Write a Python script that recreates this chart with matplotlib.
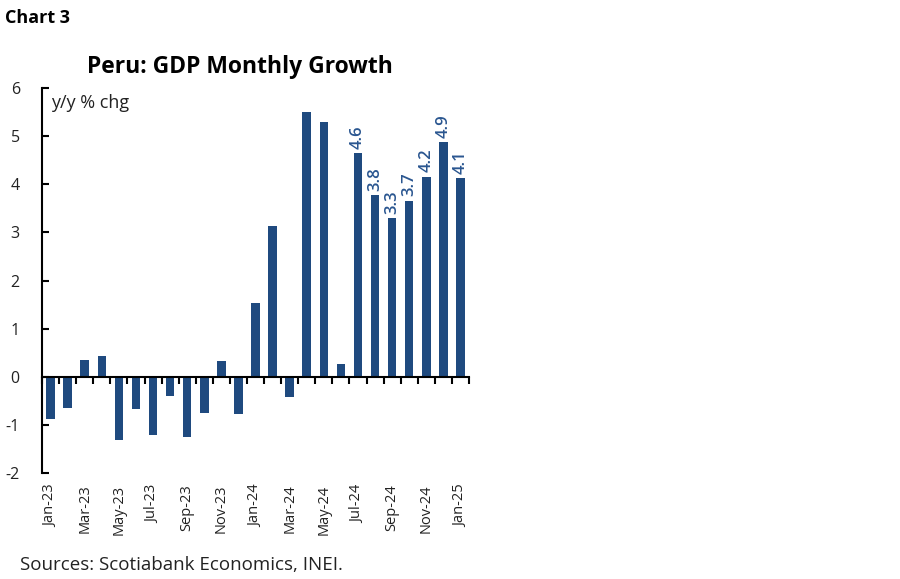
import matplotlib
matplotlib.use("Agg")
import matplotlib.pyplot as plt
import matplotlib.transforms as mtransforms
import numpy as np

months = ["Jan-23", "Feb-23", "Mar-23", "Apr-23", "May-23", "Jun-23", "Jul-23", "Aug-23",
          "Sep-23", "Oct-23", "Nov-23", "Dec-23", "Jan-24", "Feb-24", "Mar-24", "Apr-24",
          "May-24", "Jun-24", "Jul-24", "Aug-24", "Sep-24", "Oct-24", "Nov-24", "Dec-24", "Jan-25"]
growth = [-0.88, -0.64, 0.35, 0.43, -1.31, -0.67, -1.20, -0.40, -1.25, -0.76, 0.32, -0.77,
          1.53, 3.14, -0.42, 5.51, 5.30, 0.26, 4.65, 3.77, 3.30, 3.66, 4.16, 4.87, 4.12]
labeled = ["4.6", "3.8", "3.3", "3.7", "4.2", "4.9", "4.1"]  # last 7 months
yticks = [-2, -1, 0, 1, 2, 3, 4, 5, 6]

bar_color = "#1f4a7f"
label_color = "#2a5690"
text_color = "#222222"
plt.rcParams['font.family'] = ['Open Sans', 'DejaVu Sans']

fig = plt.figure(figsize=(9, 5.79), dpi=100)
ax = fig.add_axes([0.0467, 0.183, 0.4744, 0.665])

x = np.arange(len(months))
ax.bar(x, growth, width=0.5, color=bar_color, zorder=2)

ax.set_xlim(-0.5, len(months) - 0.5)
ax.set_ylim(-2, 6)
ax.set_yticks(yticks)
ax.set_yticklabels([str(v) for v in yticks], fontsize=11.5, color=text_color)
ax.tick_params(axis='y', direction='in', length=5, width=1.5, pad=16, color='black')

for s in ['top', 'right']:
    ax.spines[s].set_visible(False)
ax.spines['left'].set_linewidth(1.5)
ax.spines['bottom'].set_position(('data', 0))
ax.spines['bottom'].set_linewidth(1.5)
ax.set_xticks(x)
ax.set_xticklabels([])
ax.tick_params(axis='x', which='major', length=0)
ax.set_xticks(np.arange(len(months) + 1) - 0.5, minor=True)
ax.tick_params(axis='x', which='minor', direction='out', length=5, width=1.5, color='black')

trans = mtransforms.blended_transform_factory(ax.transData, ax.transAxes)
for i, m in enumerate(months):
    if i % 2 == 0:
        ax.text(i, -0.03, m, transform=trans, rotation=90, ha='center', va='top',
                fontsize=10.5, color=text_color)

n_lab = len(labeled)
for i, lab in zip(range(len(months) - n_lab, len(months)), labeled):
    ax.annotate(lab, (i, growth[i]), xytext=(0, 3), textcoords='offset points',
                rotation=90, ha='center', va='bottom', fontsize=12, color=label_color,
                fontweight='semibold')

ax.text(0.022, 0.985, "y/y % chg", transform=ax.transAxes, ha='left', va='top',
        fontsize=13, color=text_color)

fig.text(5 / 900, 1 - 18 / 579, "Chart 3", fontsize=13, fontweight='bold', ha='left', va='center')
fig.text(240 / 900, 1 - 67 / 579, "Peru: GDP Monthly Growth", fontsize=16.5, fontweight='bold',
         ha='center', va='center')
fig.text(20 / 900, 1 - 565 / 579, "Sources: Scotiabank Economics, INEI.", fontsize=13.5,
         ha='left', va='center', color=text_color)

fig.savefig("out.png", dpi=100)
